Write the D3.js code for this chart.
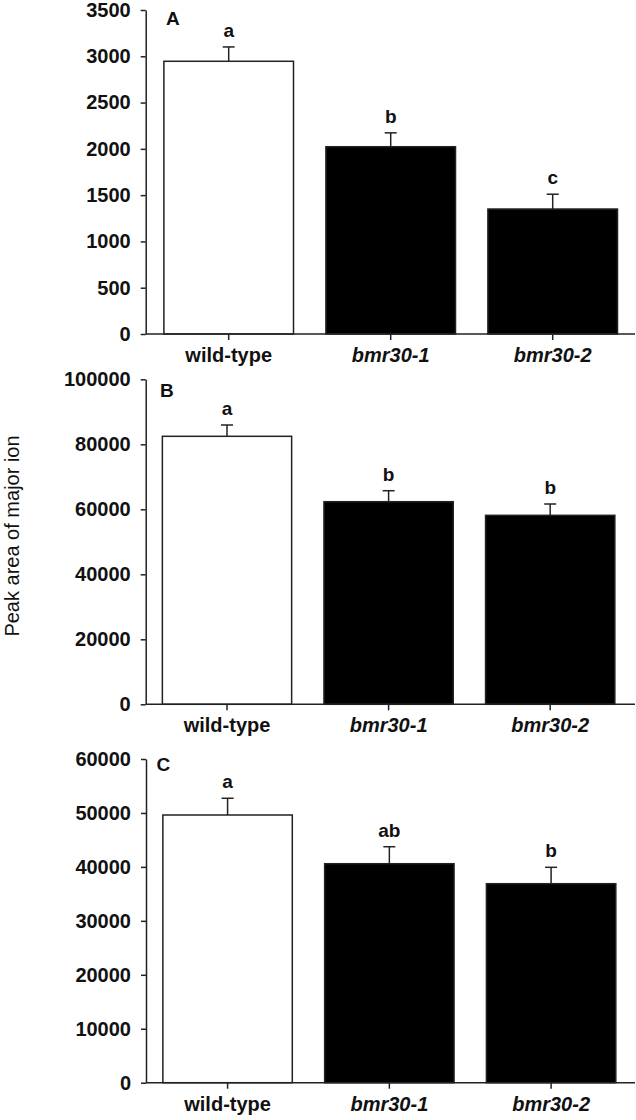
<!DOCTYPE html>
<html>
<head>
<meta charset="utf-8">
<script src="https://cdn.jsdelivr.net/npm/d3@7"></script>
<style>
  body { margin: 0; background: #fff; }
  svg { display: block; }
</style>
</head>
<body>
<svg id="chart" width="636" height="1120"></svg>
<script>
// data
const categories = ['wild-type', 'bmr30-1', 'bmr30-2'];
const panelNames = ['A', 'B', 'C'];

const meansA = [2946, 2023, 1350];
const errA = [155, 150, 160];
const lettersA = ['a', 'b', 'c'];

const meansB = [82460, 62340, 58150];
const errB = [3480, 3380, 3480];
const lettersB = ['a', 'b', 'b'];

const meansC = [49620, 40590, 36885];
const errC = [3100, 3150, 3040];
const lettersC = ['a', 'ab', 'b'];

const yMaxes = [3500, 100000, 60000];
const yTickSteps = [500, 20000, 10000];

const yTitle = 'Peak area of major ion';

// layout of each panel (pixels)
const layout = [
  {top: 10, bottom: 334, axisX: 145.7, xr: [147.7, 633.7], lab: [166, 25]},
  {top: 379.3, bottom: 704.3, axisX: 145.7, xr: [146.2, 631], lab: [160, 397]},
  {top: 759, bottom: 1082.7, axisX: 146, xr: [146.7, 632], lab: [156.5, 771]}
];
const xEnd = 635;
const font = '"Liberation Sans", Arial, Helvetica, sans-serif';
const ink = '#111';

const panels = [
  {means: meansA, errs: errA, letters: lettersA},
  {means: meansB, errs: errB, letters: lettersB},
  {means: meansC, errs: errC, letters: lettersC}
];

const svg = d3.select('#chart');

panels.forEach((p, i) => {
  const L = layout[i];
  const g = svg.append('g');

  const y = d3.scaleLinear()
    .domain([0, yMaxes[i]])
    .range([L.bottom, L.top]);

  const x = d3.scaleBand()
    .domain(categories)
    .range(L.xr)
    .paddingInner(0.2)
    .paddingOuter(0.1);

  const rows = categories.map((c, j) => ({
    cat: c, mean: p.means[j], err: p.errs[j], letter: p.letters[j], idx: j
  }));

  // bars
  g.selectAll('rect.bar')
    .data(rows)
    .enter()
    .append('rect')
    .attr('class', 'bar')
    .attr('x', d => x(d.cat))
    .attr('y', d => y(d.mean))
    .attr('width', x.bandwidth())
    .attr('height', d => y(0) - y(d.mean))
    .attr('fill', d => d.idx === 0 ? '#fff' : '#000')
    .attr('stroke', '#222')
    .attr('stroke-width', 1.5);

  // error bars (upper only)
  const eb = g.selectAll('g.err')
    .data(rows)
    .enter()
    .append('g')
    .attr('class', 'err')
    .attr('stroke', '#222')
    .attr('stroke-width', 1.5);

  eb.append('line')
    .attr('x1', d => x(d.cat) + x.bandwidth() / 2)
    .attr('x2', d => x(d.cat) + x.bandwidth() / 2)
    .attr('y1', d => y(d.mean))
    .attr('y2', d => y(d.mean + d.err));

  eb.append('line')
    .attr('x1', d => x(d.cat) + x.bandwidth() / 2 - 6)
    .attr('x2', d => x(d.cat) + x.bandwidth() / 2 + 6)
    .attr('y1', d => y(d.mean + d.err))
    .attr('y2', d => y(d.mean + d.err));

  // significance letters
  g.selectAll('text.sig')
    .data(rows)
    .enter()
    .append('text')
    .attr('class', 'sig')
    .attr('x', d => x(d.cat) + x.bandwidth() / 2)
    .attr('y', d => y(d.mean + d.err) - 10)
    .attr('text-anchor', 'middle')
    .attr('font-family', font)
    .attr('font-weight', 'bold')
    .attr('font-size', 19)
    .attr('fill', ink)
    .text(d => d.letter);

  // y axis
  const yAxis = d3.axisLeft(y)
    .tickValues(d3.range(0, yMaxes[i] + 1, yTickSteps[i]))
    .tickFormat(d3.format('d'))
    .tickSize(5)
    .tickPadding(10)
    .tickSizeOuter(0);

  const ya = g.append('g')
    .attr('transform', 'translate(' + L.axisX + ',0)')
    .call(yAxis);
  ya.selectAll('path, line').attr('stroke', '#222').attr('stroke-width', 1.5);
  ya.selectAll('text')
    .attr('font-family', font)
    .attr('font-weight', 'bold')
    .attr('font-size', 20)
    .attr('fill', ink);

  // x axis
  const xAxis = d3.axisBottom(x).tickSize(6).tickSizeOuter(0).tickPadding(8);
  const xa = g.append('g')
    .attr('transform', 'translate(0,' + y(0) + ')')
    .call(xAxis);
  xa.select('.domain').remove();
  xa.selectAll('line').attr('stroke', '#222').attr('stroke-width', 1.5);
  xa.selectAll('text')
    .attr('y', 28)
    .attr('dy', 0)
    .attr('font-family', font)
    .attr('font-weight', 'bold')
    .attr('font-style', (d, j) => j === 0 ? 'normal' : 'italic')
    .attr('font-size', 20)
    .attr('fill', ink);

  g.append('line')
    .attr('x1', L.axisX)
    .attr('x2', xEnd)
    .attr('y1', y(0))
    .attr('y2', y(0))
    .attr('stroke', '#222')
    .attr('stroke-width', 1.5);

  // panel letter
  g.append('text')
    .attr('x', L.lab[0])
    .attr('y', L.lab[1])
    .attr('font-family', font)
    .attr('font-weight', 'bold')
    .attr('font-size', 19)
    .attr('fill', ink)
    .text(panelNames[i]);
});

// shared y title
svg.append('text')
  .attr('transform', 'translate(19,536) rotate(-90)')
  .attr('text-anchor', 'middle')
  .attr('font-family', font)
  .attr('font-size', 20)
  .attr('fill', ink)
  .text(yTitle);
</script>
</body>
</html>
